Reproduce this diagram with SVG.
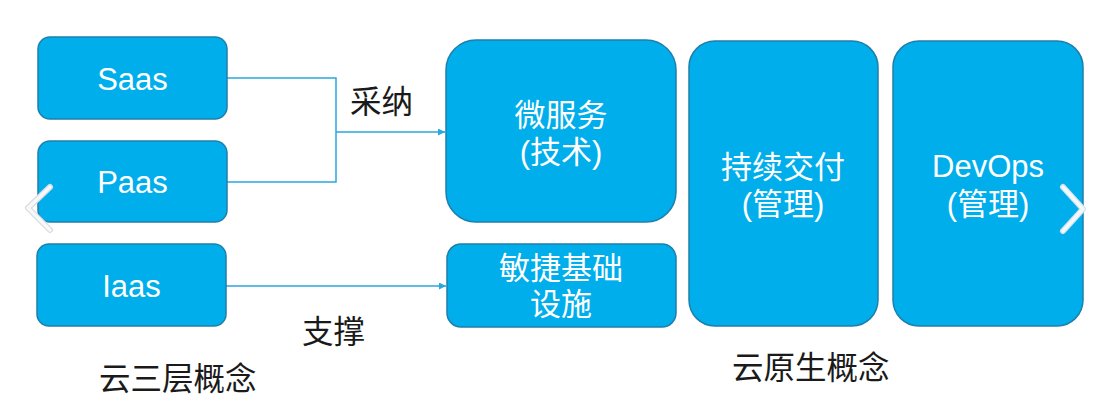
<svg xmlns="http://www.w3.org/2000/svg" width="1108" height="411" viewBox="0 0 1108 411">
<defs>
<style>
.box{fill:#00AEEC;stroke:#1E7FAA;stroke-width:1.5}
.lat{font-family:"Liberation Sans",Arial,sans-serif;font-size:31px;fill:#fff;text-anchor:middle}
.cjk{font-family:"Liberation Sans","Noto Sans CJK SC",sans-serif;font-size:31px;fill:#fff;text-anchor:middle}
.lbl{font-family:"Noto Sans CJK SC",sans-serif;font-size:31.5px;fill:#1a1a1a}
.con{fill:none;stroke:#2BA6DE;stroke-width:1.5}
.chev{fill:none;stroke-linecap:round;stroke-linejoin:round}
</style>
<marker id="arr" viewBox="0 0 10 10" refX="10" refY="5" markerWidth="7" markerHeight="7" markerUnits="userSpaceOnUse" orient="auto">
<path d="M0,0 L10,5 L0,10 z" fill="#2BA6DE"/>
</marker>
</defs>
<rect width="1108" height="411" fill="#fff"/>
<g id="connectors">
<path class="con" d="M227,78 H336 V182 H227"/>
<path class="con" d="M336,132 H445" marker-end="url(#arr)"/>
<path class="con" d="M226,286 H446" marker-end="url(#arr)"/>
</g>
<g id="saas"><rect class="box" x="38" y="37" width="189" height="82" rx="12"/><text class="lat" x="132.5" y="90">Saas</text></g>
<g id="paas"><rect class="box" x="38" y="141" width="189" height="81" rx="12"/><text class="lat" x="132.5" y="193">Paas</text></g>
<g id="iaas"><rect class="box" x="37" y="244" width="189" height="82" rx="12"/><text class="lat" x="131.5" y="297">Iaas</text></g>
<g id="microservice"><rect class="box" x="446" y="40" width="230" height="182" rx="30"/><text class="cjk" x="561" y="126">微服务</text><text class="cjk" x="561" y="163">(技术)</text></g>
<g id="agile"><rect class="box" x="447" y="244" width="229" height="83" rx="14"/><text class="cjk" x="561" y="279">敏捷基础</text><text class="cjk" x="561" y="315">设施</text></g>
<g id="cd"><rect class="box" x="689" y="41" width="189" height="285" rx="26"/><text class="cjk" x="783" y="178">持续交付</text><text class="cjk" x="783" y="215">(管理)</text></g>
<g id="devops"><rect class="box" x="893" y="41" width="190" height="285" rx="26"/><text class="lat" x="988" y="177">DevOps</text><text class="cjk" x="988" y="215">(管理)</text></g>
<g id="labels">
<text class="lbl" x="350" y="113">采纳</text>
<text class="lbl" x="302" y="343">支撑</text>
<text class="lbl" x="99" y="390">云三层概念</text>
<text class="lbl" x="732" y="379">云原生概念</text>
</g>
<g id="nav">
<path class="chev" d="M50,187 L28,208 L50,230" stroke="#d8dde2" stroke-width="6"/>
<path class="chev" d="M50,187 L28,208 L50,230" stroke="#f6f8fa" stroke-width="3.5"/>
<path class="chev" d="M1063,187 L1083,209 L1063,231" stroke="#cfe3ee" stroke-width="6"/>
<path class="chev" d="M1063,187 L1083,209 L1063,231" stroke="#f4f8fa" stroke-width="3.5"/>
</g>
</svg>
